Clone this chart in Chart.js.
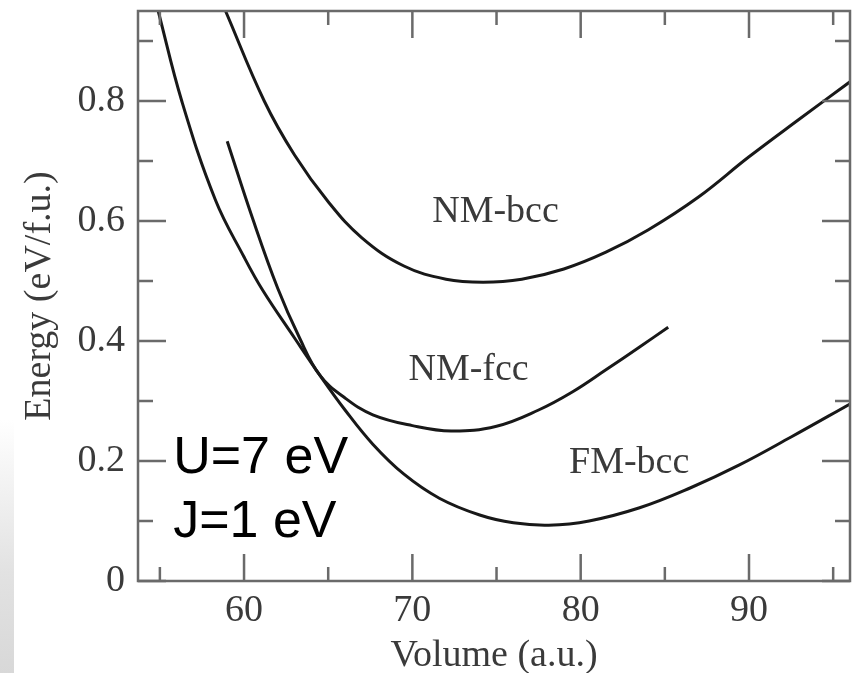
<!DOCTYPE html>
<html>
<head>
<meta charset="utf-8">
<script src="https://cdn.jsdelivr.net/npm/chart.js@4.4.1/dist/chart.umd.min.js"></script>
<style>
  body { margin: 0; background: #fff; }
  #wrap { position: relative; width: 858px; height: 673px; }
  #shade { position: absolute; left: 0; top: 420px; width: 14px; height: 253px;
           background: linear-gradient(to bottom, #fff, #e2e2e2 60%, #d8d8d8); }
</style>
</head>
<body>
<div id="wrap">
  <div id="shade"></div>
  <canvas id="grafico"></canvas>
</div>
<script>
// volume (a.u.) and energy (eV/f.u.)
const volNMbcc = [58.9, 61.2, 63.0, 65.0, 67.0, 69.5, 72.0, 74.2, 76.5, 79.0, 81.5, 84.0, 87.0, 90.0, 93.0, 96.0];
const eNMbcc   = [0.95, 0.80, 0.71, 0.632, 0.572, 0.525, 0.503, 0.498, 0.503, 0.52, 0.548, 0.585, 0.64, 0.707, 0.77, 0.832];

const volNMfcc = [59.0, 60.5, 62.0, 63.3, 64.5, 66.0, 67.65, 70.0, 72.3, 75.0, 77.5, 79.5, 81.5, 83.5, 85.2];
const eNMfcc   = [0.733, 0.605, 0.488, 0.405, 0.343, 0.305, 0.277, 0.259, 0.25, 0.258, 0.285, 0.315, 0.352, 0.39, 0.423];

const volFMbcc = [54.9, 56.3, 58.3, 60.0, 61.1, 63.0, 64.5, 66.0, 67.65, 69.5, 71.6, 74.0, 76.0, 78.1, 80.5, 83.5, 86.5, 89.4, 92.5, 96.0];
const eFMbcc   = [0.95, 0.80, 0.635, 0.54, 0.485, 0.405, 0.343, 0.285, 0.228, 0.178, 0.138, 0.11, 0.097, 0.093, 0.10, 0.122, 0.155, 0.193, 0.24, 0.295];

const xTicks = [60, 70, 80, 90];
const xMinor = [55, 65, 75, 85, 95];
const yTicks = [0, 0.2, 0.4, 0.6, 0.8];
const yMinor = [0.1, 0.3, 0.5, 0.7, 0.9];

// text written inside the plot: [text, x, y, font]
const rotulos = [
  ['NM-bcc', 74.94, 0.615, 'serif'],
  ['NM-fcc', 73.34, 0.352, 'serif'],
  ['FM-bcc', 82.88, 0.197, 'serif'],
  ['U=7 eV', 55.79, 0.18, 'sans'],
  ['J=1 eV', 55.79, 0.073, 'sans']
];

function pontos(xs, ys) {
  return xs.map((x, i) => ({ x: x, y: ys[i] }));
}

function serie(nome, xs, ys) {
  return {
    label: nome,
    data: pontos(xs, ys),
    borderColor: '#181818',
    borderWidth: 3,
    pointRadius: 0,
    tension: 0.4,
    fill: false
  };
}

const serif = "'Liberation Serif', 'DejaVu Serif', serif";
const corTexto = '#3a3a3a';
const corMoldura = '#6a6a6a';

const molduraPlugin = {
  id: 'moldura',
  afterDraw(chart) {
    const ctx = chart.ctx;
    const a = chart.chartArea;
    const sx = chart.scales.x, sy = chart.scales.y;
    ctx.save();
    ctx.strokeStyle = corMoldura;
    ctx.lineWidth = 2.5;
    ctx.strokeRect(a.left, a.top, a.right - a.left, a.bottom - a.top);

    function marcaX(v, len) {
      const px = sx.getPixelForValue(v);
      ctx.beginPath();
      ctx.moveTo(px, a.bottom); ctx.lineTo(px, a.bottom - len);
      ctx.moveTo(px, a.top); ctx.lineTo(px, a.top + len);
      ctx.stroke();
    }
    function marcaY(v, len) {
      const py = sy.getPixelForValue(v);
      ctx.beginPath();
      ctx.moveTo(a.left, py); ctx.lineTo(a.left + len, py);
      ctx.moveTo(a.right, py); ctx.lineTo(a.right - len, py);
      ctx.stroke();
    }
    xTicks.forEach(v => marcaX(v, 27));
    xMinor.forEach(v => marcaX(v, 14));
    yTicks.forEach(v => marcaY(v, 28));
    yMinor.forEach(v => marcaY(v, 15));

    rotulos.forEach(r => {
      const px = sx.getPixelForValue(r[1]);
      const py = sy.getPixelForValue(r[2]);
      if (r[3] === 'serif') {
        ctx.font = '38px ' + serif;
        ctx.fillStyle = corTexto;
        ctx.textAlign = 'center';
        ctx.textBaseline = 'middle';
      } else {
        ctx.font = "52px 'Liberation Sans', Arial, sans-serif";
        ctx.fillStyle = '#000';
        ctx.textAlign = 'left';
        ctx.textBaseline = 'alphabetic';
      }
      ctx.fillText(r[0], px, py);
    });
    ctx.restore();
  }
};

const grafico = new Chart(document.getElementById('grafico'), {
  type: 'line',
  data: {
    datasets: [
      serie('NM-bcc', volNMbcc, eNMbcc),
      serie('NM-fcc', volNMfcc, eNMfcc),
      serie('FM-bcc', volFMbcc, eFMbcc)
    ]
  },
  options: {
    responsive: true,
    maintainAspectRatio: false,
    animation: false,
    layout: { padding: { top: 11, right: 8, left: 0, bottom: 0 } },
    plugins: { legend: { display: false }, tooltip: { enabled: false } },
    scales: {
      x: {
        type: 'linear',
        min: 53.7,
        max: 96,
        afterBuildTicks: s => { s.ticks = xTicks.map(v => ({ value: v })); },
        afterFit: s => { s.height = 92; s.paddingLeft = 0; s.paddingRight = 0; },
        grid: { display: false, drawTicks: false },
        border: { display: false },
        ticks: {
          padding: 11,
          color: corTexto,
          font: { family: serif, size: 38, lineHeight: 1 },
          maxRotation: 0
        },
        title: {
          display: true,
          text: 'Volume (a.u.)',
          color: corTexto,
          font: { family: serif, size: 38, lineHeight: 1 },
          padding: { top: 0, bottom: -2 }
        }
      },
      y: {
        min: 0,
        max: 0.95,
        afterBuildTicks: s => { s.ticks = yTicks.map(v => ({ value: v })); },
        afterFit: s => { s.width = 138; s.paddingTop = 0; s.paddingBottom = 0; },
        grid: { display: false, drawTicks: false },
        border: { display: false },
        ticks: {
          padding: 13,
          color: corTexto,
          font: { family: serif, size: 38, lineHeight: 1 },
          callback: v => v === 0 ? '0' : v.toFixed(1)
        },
        title: {
          display: true,
          text: 'Energy (eV/f.u.)',
          color: corTexto,
          font: { family: serif, size: 38, lineHeight: 1 },
          padding: { top: 21, bottom: 0 }
        }
      }
    }
  },
  plugins: [molduraPlugin]
});
</script>
</body>
</html>
